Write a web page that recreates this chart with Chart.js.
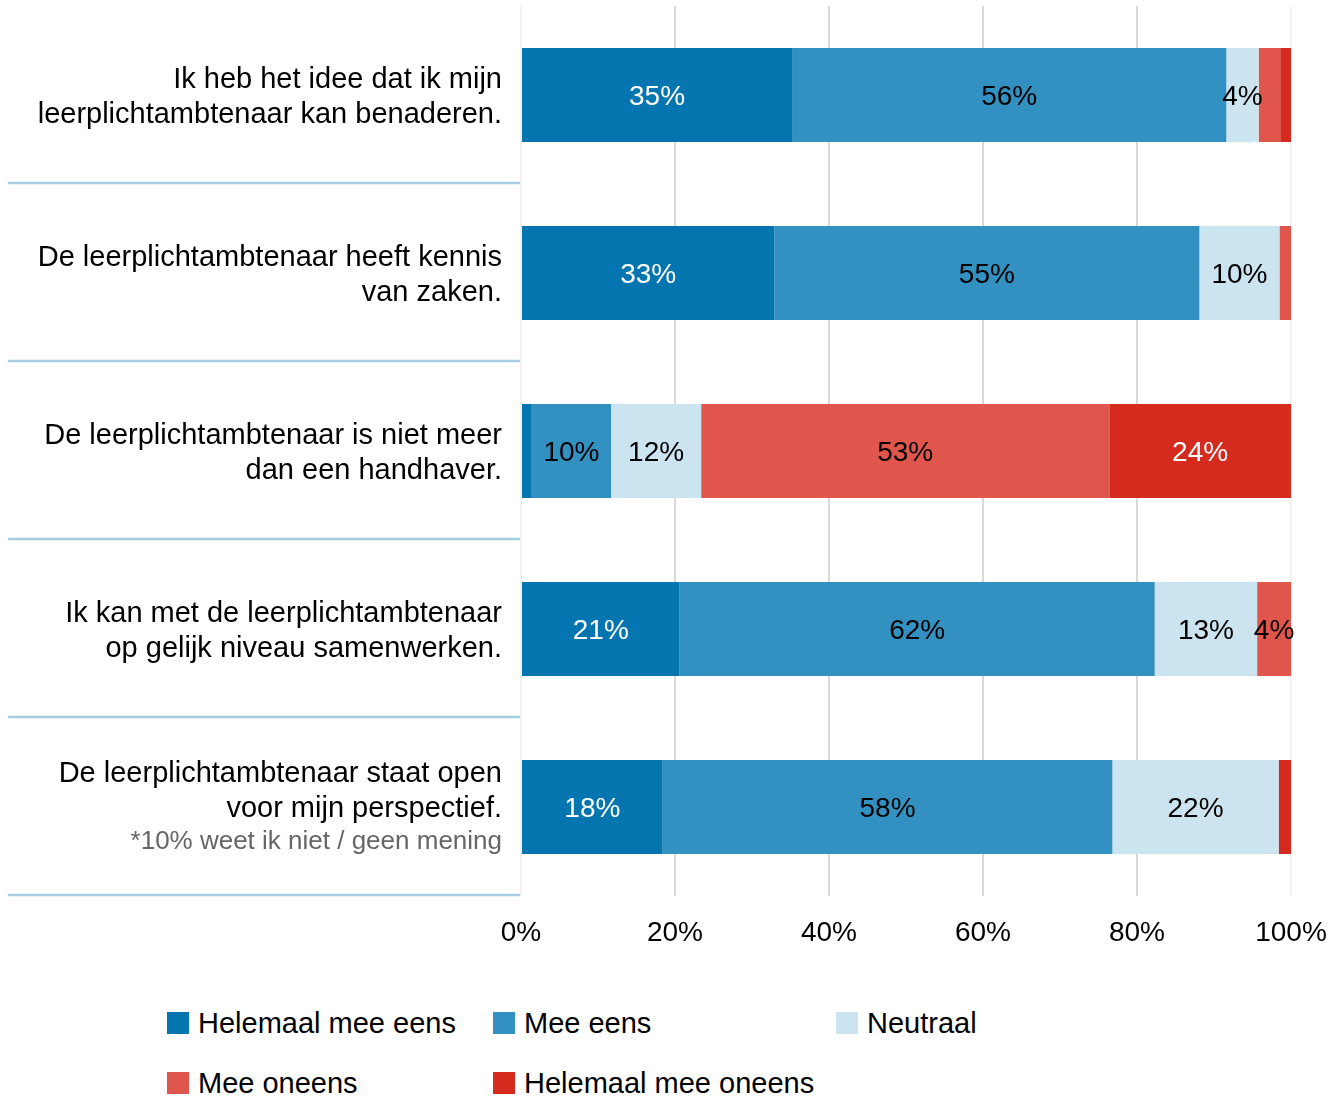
<!DOCTYPE html>
<html>
<head>
<meta charset="utf-8">
<script src="https://cdn.jsdelivr.net/npm/chart.js@4"></script>
<style>
  body { margin: 0; background: #fff; font-family: "Liberation Sans", Arial, sans-serif; }
  #wrap { position: relative; width: 1332px; height: 1096px; }
  #chart { position: absolute; left: 0; top: 0; }
  #legend { position: absolute; left: 167px; top: 1006px; display: grid;
            grid-template-columns: 326px 343px auto; row-gap: 26px; }
  .item { display: flex; align-items: center; font-size: 29px; height: 34px; color: #000; }
  .box { width: 22px; height: 22px; margin-right: 9px; }
</style>
</head>
<body>
<div id="wrap">
  <canvas id="chart" width="1332" height="960"></canvas>
  <div id="legend"></div>
</div>
<script>
// stellingen (regels van het label) en voetnoot
const categories = [
  ['Ik heb het idee dat ik mijn', 'leerplichtambtenaar kan benaderen.'],
  ['De leerplichtambtenaar heeft kennis', 'van zaken.'],
  ['De leerplichtambtenaar is niet meer', 'dan een handhaver.'],
  ['Ik kan met de leerplichtambtenaar', 'op gelijk niveau samenwerken.'],
  ['De leerplichtambtenaar staat open', 'voor mijn perspectief.']
];
const footnotes = ['', '', '', '', '*10% weet ik niet / geen mening'];

const seriesNames = ['Helemaal mee eens', 'Mee eens', 'Neutraal', 'Mee oneens', 'Helemaal mee oneens'];
const seriesColors = ['#0575B0', '#3391C1', '#CCE4F0', '#E0564D', '#D52B1F'];
const labelColors = ['#fff', '#000', '#000', '#000', '#fff'];

const helemaalEens  = [35.2, 32.9,  1.4, 20.6, 18.4];
const meeEens       = [56.4, 55.2, 10.3, 61.7, 58.4];
const neutraal      = [ 4.2, 10.4, 11.7, 13.3, 21.6];
const meeOneens     = [ 2.9,  1.5, 53.0,  4.4,  0.0];
const helemaalOneens= [ 1.3,  0.0, 23.6,  0.0,  1.6];

const xTicks = [0, 20, 40, 60, 80, 100];

const series = [helemaalEens, meeEens, neutraal, meeOneens, helemaalOneens];
const FONT = '"Liberation Sans", Arial, sans-serif';

// legenda
const legend = document.getElementById('legend');
seriesNames.forEach((n, i) => {
  const d = document.createElement('div');
  d.className = 'item';
  d.innerHTML = '<span class="box" style="background:' + seriesColors[i] + '"></span>' + n;
  legend.appendChild(d);
});

const rowLabels = {
  id: 'rowLabels',
  afterDraw(chart) {
    const ctx = chart.ctx, y = chart.scales.y;
    const band = (chart.chartArea.bottom - chart.chartArea.top) / categories.length;
    ctx.save();
    ctx.textAlign = 'right';
    ctx.textBaseline = 'middle';
    categories.forEach((lines, i) => {
      const cy = y.getPixelForValue(i) + 2;
      const all = lines.slice();
      if (footnotes[i]) all.push(footnotes[i]);
      const lh = 35;
      let ty = cy - (all.length - 1) * lh / 2;
      all.forEach((t, k) => {
        const isNote = k >= lines.length;
        ctx.font = (isNote ? '26px ' : '29px ') + FONT;
        ctx.fillStyle = isNote ? '#666' : '#000';
        ctx.fillText(t, 502, ty + k * lh - (isNote ? 2 : 0));
      });
      // scheidingslijn
      const sy = cy - 2 + band / 2 - 1;
      ctx.strokeStyle = '#A3CDE3';
      ctx.lineWidth = 2.5;
      ctx.beginPath();
      ctx.moveTo(8, sy);
      ctx.lineTo(520, sy);
      ctx.stroke();
    });
    ctx.restore();
  }
};

const barLabels = {
  id: 'barLabels',
  afterDatasetsDraw(chart) {
    const ctx = chart.ctx;
    ctx.save();
    ctx.font = '28px ' + FONT;
    ctx.textAlign = 'center';
    ctx.textBaseline = 'middle';
    chart.data.datasets.forEach((ds, di) => {
      chart.getDatasetMeta(di).data.forEach((bar, i) => {
        const v = ds.data[i];
        if (v < 3.5) return;
        ctx.fillStyle = labelColors[di];
        ctx.fillText(Math.round(v) + '%', (bar.x + bar.base) / 2, bar.y + 2);
      });
    });
    ctx.restore();
  }
};

new Chart(document.getElementById('chart'), {
  type: 'bar',
  data: {
    labels: categories,
    datasets: series.map((d, i) => ({
      label: seriesNames[i],
      data: d,
      backgroundColor: seriesColors[i],
      borderWidth: 0,
      barPercentage: 0.528,
      categoryPercentage: 1
    }))
  },
  options: {
    indexAxis: 'y',
    responsive: false,
    animation: false,
    layout: { padding: { top: 6, right: 41, left: 0, bottom: 0 } },
    plugins: { legend: { display: false }, tooltip: { enabled: false } },
    scales: {
      x: {
        stacked: true,
        min: 0, max: 100,
        afterBuildTicks: s => { s.ticks = xTicks.map(v => ({ value: v })); },
        afterFit: s => { s.height = 64; s.paddingRight = 0; s.paddingLeft = 0; },
        border: { display: false },
        grid: {
          drawTicks: false,
          lineWidth: 2,
          color: c => (c.tick && (c.tick.value === 0 || c.tick.value === 100)) ? '#F2F2F2' : '#D9D9D9'
        },
        ticks: {
          padding: 20,
          color: '#000',
          font: { size: 28, family: FONT },
          callback: v => v + '%'
        }
      },
      y: {
        stacked: true,
        afterFit: s => { s.width = 521; },
        border: { display: false },
        grid: { display: false },
        ticks: { display: false }
      }
    }
  },
  plugins: [rowLabels, barLabels]
});
</script>
</body>
</html>
